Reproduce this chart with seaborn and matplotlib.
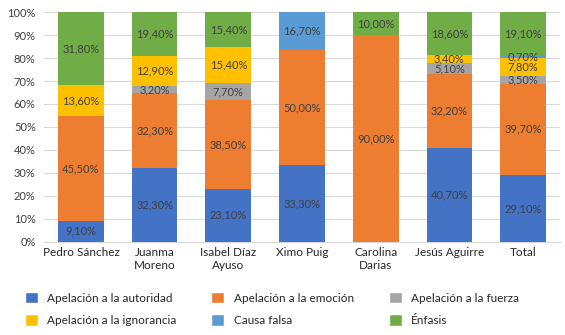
import matplotlib
matplotlib.use("Agg")
import matplotlib.pyplot as plt
import seaborn as sns
import numpy as np
from matplotlib.patches import Patch

# Politicians (x categories)
candidatos = ["Pedro Sánchez", "Juanma\nMoreno", "Isabel Díaz\nAyuso", "Ximo Puig",
              "Carolina\nDarias", "Jesús Aguirre", "Total"]

# Percentages per fallacy type
autoridad = [9.10, 32.30, 23.10, 33.30, 0, 40.70, 29.10]
emocion = [45.50, 32.30, 38.50, 50.00, 90.00, 32.20, 39.70]
fuerza = [0, 3.20, 7.70, 0, 0, 5.10, 3.50]
ignorancia = [13.60, 12.90, 15.40, 0, 0, 3.40, 7.80]
causa_falsa = [0, 0, 0, 16.70, 0, 0, 0.70]
enfasis = [31.80, 19.40, 15.40, 0, 10.00, 18.60, 19.10]

series = ["Apelación a la autoridad", "Apelación a la emoción", "Apelación a la fuerza",
          "Apelación a la ignorancia", "Causa falsa", "Énfasis"]
valores = [autoridad, emocion, fuerza, ignorancia, causa_falsa, enfasis]
colores = ["#4472C4", "#ED7D31", "#A5A5A5", "#FFC000", "#5B9BD5", "#70AD47"]

sns.set_style("white")
plt.rcParams["font.family"] = ["Lato", "DejaVu Sans"]

fig = plt.figure(figsize=(5.65, 3.35), dpi=100)
ax = fig.add_axes([0.078, 0.278, 0.913, 0.686])

bottom = np.zeros(len(candidatos))
for nombre, vals, col in zip(series, valores, colores):
    vals = np.array(vals, dtype=float)
    sns.barplot(x=candidatos, y=vals, bottom=bottom, color=col, width=0.62,
                ax=ax, saturation=1, zorder=3, edgecolor="none", linewidth=0)
    bars = ax.containers[-1]
    for rect, v, b in zip(bars, vals, bottom):
        if v > 0:
            ax.text(rect.get_x() + rect.get_width() / 2, b + v / 2,
                    f"{v:.2f}%".replace(".", ","), ha="center", va="center",
                    fontsize=8, color="#404040", zorder=4)
    bottom += vals

ax.set_ylim(0, 100)
ax.set_xlim(-0.5, len(candidatos) - 0.5)
ax.set_yticks(range(0, 101, 10))
ax.set_yticklabels([f"{t}%" for t in range(0, 101, 10)], fontsize=8, color="#404040")
ax.tick_params(axis="x", labelsize=8.5, labelcolor="#262626", length=0, pad=4)
ax.tick_params(axis="y", length=0, pad=6)
ax.yaxis.grid(True, color="#D9D9D9", linewidth=0.8, zorder=0)
ax.set_axisbelow(True)
for s in ["top", "right", "left"]:
    ax.spines[s].set_visible(False)
ax.spines["bottom"].set_color("#D9D9D9")
ax.set_xlabel("")
ax.set_ylabel("")

# legend filled column-wise, so reorder to read row by row
orden = [0, 3, 1, 4, 2, 5]
handles = [Patch(facecolor=colores[i], label=series[i]) for i in orden]
fig.legend(handles=handles, ncol=3, loc="upper left", bbox_to_anchor=(0.025, 0.16),
           frameon=False, fontsize=8.5, handlelength=1.1, handleheight=1.1,
           columnspacing=2.95, labelspacing=0.9, handletextpad=0.8,
           labelcolor="#262626")

plt.savefig("out.png", dpi=100)
